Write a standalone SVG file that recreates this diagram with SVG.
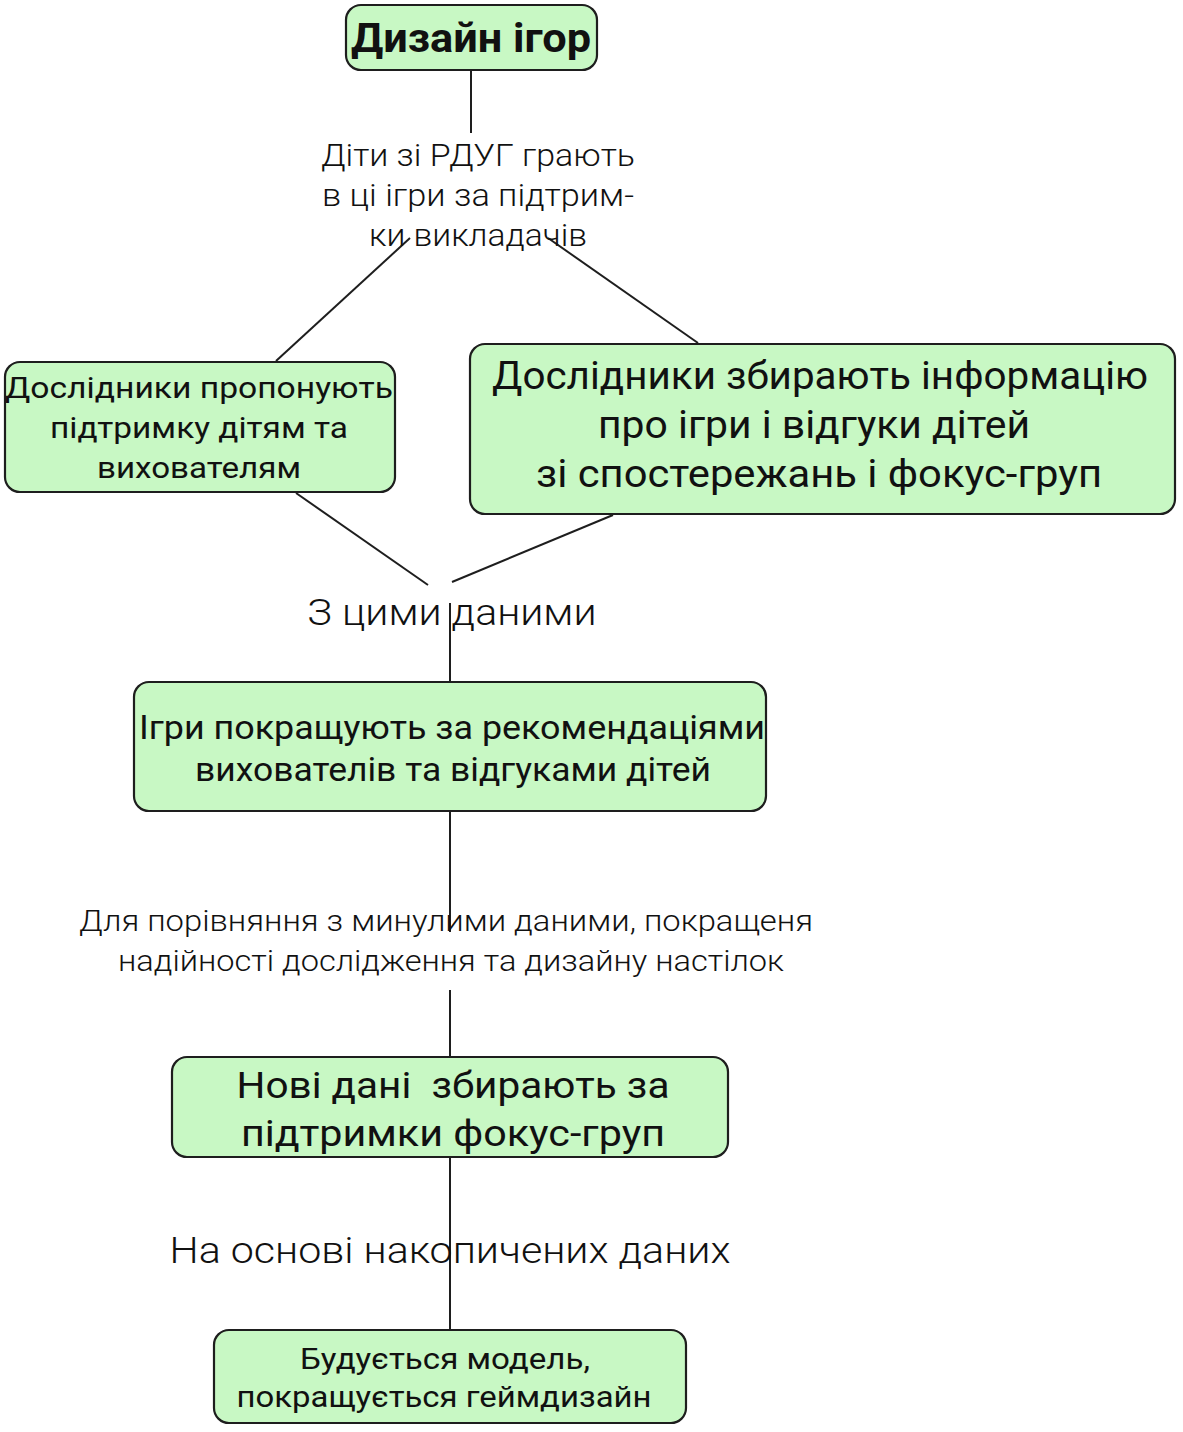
<svg xmlns="http://www.w3.org/2000/svg" width="1183" height="1432" viewBox="0 0 1183 1432">
<style>
.box{fill:#c8f8c4;stroke:#1e1e1e;stroke-width:2.2}
.t{font-family:Roboto,"Liberation Sans",sans-serif;font-weight:400;fill:#111;text-anchor:middle;dominant-baseline:central}
.tb{font-family:Roboto,"Liberation Sans",sans-serif;font-weight:700;fill:#111;text-anchor:middle;dominant-baseline:central}
.lbl{font-family:Roboto,"Liberation Sans",sans-serif;font-weight:300;fill:#111;text-anchor:middle;dominant-baseline:central}
.c{stroke:#1e1e1e;stroke-width:2;fill:none}
</style>
<rect width="1183" height="1432" fill="#ffffff"/>
<g id="connectors">
<line class="c" x1="471" y1="70" x2="471" y2="133"/>
<line class="c" x1="410" y1="238" x2="276" y2="361"/>
<line class="c" x1="548" y1="238" x2="698" y2="343"/>
<line class="c" x1="296" y1="493" x2="428" y2="585"/>
<line class="c" x1="613" y1="515" x2="452" y2="582"/>
<line class="c" x1="450" y1="603" x2="450" y2="682"/>
<line class="c" x1="450" y1="811" x2="450" y2="932"/>
<line class="c" x1="450" y1="990" x2="450" y2="1057"/>
<line class="c" x1="450" y1="1157" x2="450" y2="1330"/>
</g>
<g id="edge-labels">
<text class="lbl" font-size="31"><tspan x="478" y="155" textLength="314" lengthAdjust="spacingAndGlyphs">Діти зі РДУГ грають</tspan><tspan x="478" y="195" textLength="312" lengthAdjust="spacingAndGlyphs">в ці ігри за підтрим-</tspan><tspan x="478" y="235" textLength="218" lengthAdjust="spacingAndGlyphs">ки викладачів</tspan></text>
<text class="lbl" font-size="36" x="452" y="613" textLength="289" lengthAdjust="spacingAndGlyphs">З цими даними</text>
<text class="lbl" font-size="29"><tspan x="446" y="921" textLength="734" lengthAdjust="spacingAndGlyphs">Для порівняння з минулими даними, покращеня</tspan><tspan x="451" y="961" textLength="666" lengthAdjust="spacingAndGlyphs">надійності дослідження та дизайну настілок</tspan></text>
<text class="lbl" font-size="36" x="450" y="1251" textLength="561" lengthAdjust="spacingAndGlyphs">На основі накопичених даних</text>
</g>
<g id="node-design">
<rect class="box" x="346" y="5" width="251" height="65" rx="15"/>
<text class="tb" font-size="40" x="471" y="38" textLength="240" lengthAdjust="spacingAndGlyphs">Дизайн ігор</text>
</g>
<g id="node-support">
<rect class="box" x="5" y="362" width="390" height="130" rx="15"/>
<text class="t" font-size="29"><tspan x="199" y="388" textLength="388" lengthAdjust="spacingAndGlyphs">Дослідники пропонують</tspan><tspan x="199" y="428" textLength="298" lengthAdjust="spacingAndGlyphs">підтримку дітям та</tspan><tspan x="199" y="468" textLength="204" lengthAdjust="spacingAndGlyphs">вихователям</tspan></text>
</g>
<g id="node-collect">
<rect class="box" x="470" y="344" width="705" height="170" rx="15"/>
<text class="t" font-size="38"><tspan x="820" y="376" textLength="656" lengthAdjust="spacingAndGlyphs">Дослідники збирають інформацію</tspan><tspan x="814" y="425" textLength="432" lengthAdjust="spacingAndGlyphs">про ігри і відгуки дітей</tspan><tspan x="819" y="474" textLength="566" lengthAdjust="spacingAndGlyphs">зі спостережань і фокус-груп</tspan></text>
</g>
<g id="node-improve">
<rect class="box" x="134" y="682" width="632" height="129" rx="15"/>
<text class="t" font-size="33"><tspan x="452" y="727" textLength="626" lengthAdjust="spacingAndGlyphs">Ігри покращують за рекомендаціями</tspan><tspan x="453" y="769" textLength="516" lengthAdjust="spacingAndGlyphs">вихователів та відгуками дітей</tspan></text>
</g>
<g id="node-newdata">
<rect class="box" x="172" y="1057" width="556" height="100" rx="15"/>
<text class="t" font-size="37" xml:space="preserve"><tspan x="453" y="1085" textLength="433" lengthAdjust="spacingAndGlyphs">Нові дані  збирають за</tspan><tspan x="453" y="1133" textLength="424" lengthAdjust="spacingAndGlyphs">підтримки фокус-груп</tspan></text>
</g>
<g id="node-model">
<rect class="box" x="214" y="1330" width="472" height="93" rx="15"/>
<text class="t" font-size="30"><tspan x="445" y="1358" textLength="290" lengthAdjust="spacingAndGlyphs">Будується модель,</tspan><tspan x="444" y="1396" textLength="415" lengthAdjust="spacingAndGlyphs">покращується геймдизайн</tspan></text>
</g>
</svg>
